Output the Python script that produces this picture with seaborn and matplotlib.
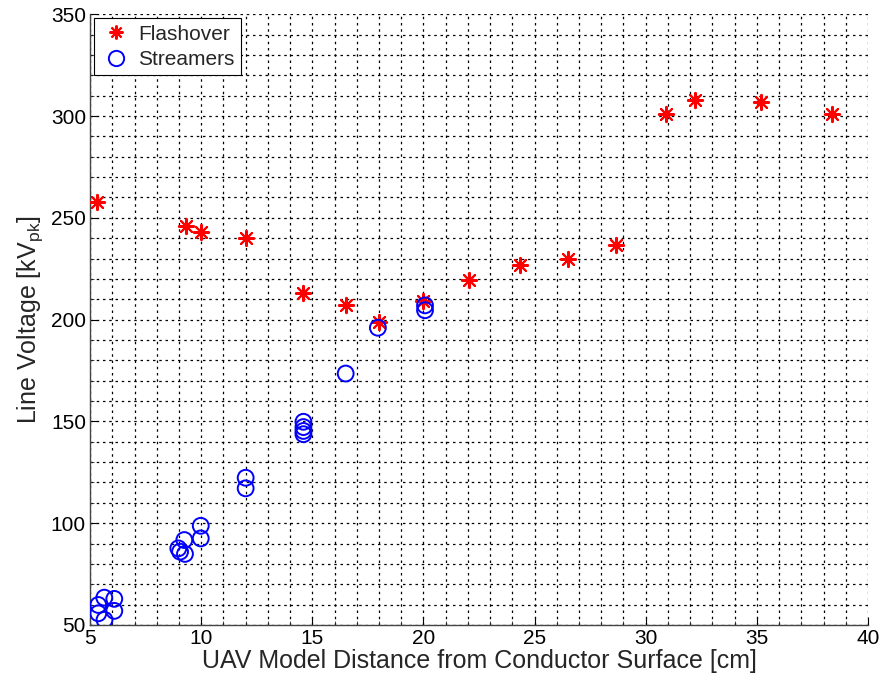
import matplotlib
matplotlib.use("Agg")
import matplotlib.pyplot as plt
import seaborn as sns
import pandas as pd
from matplotlib.ticker import MultipleLocator
from matplotlib.lines import Line2D

flash_x = [5.3, 9.3, 10.0, 12.0, 14.6, 16.5, 18.0, 20.0, 22.05, 24.35, 26.5, 28.65, 30.9, 32.2, 35.2, 38.4]
flash_y = [258, 246, 243, 240, 213, 207, 199, 209, 219.5, 227, 230, 236.5, 301, 308, 307, 301]

stream_x = [5.37, 5.64, 6.09, 5.37, 6.09, 5.65, 8.97, 9.05, 9.24, 9.27, 9.98, 9.98,
            12.0, 12.0, 14.6, 14.6, 14.6, 14.6, 16.5, 17.95, 20.07, 20.07]
stream_y = [59.8, 63.4, 62.8, 55.7, 56.9, 52.5, 87.6, 86.0, 91.7, 84.9, 98.7, 92.5,
            122.3, 117.1, 149.8, 147.2, 145.3, 143.7, 173.5, 196, 207, 204.6]

x_ticks = [5, 10, 15, 20, 25, 30, 35, 40]
y_ticks = [50, 100, 150, 200, 250, 300, 350]

sns.set_style("white")
plt.rcParams['font.family'] = ['Liberation Sans', 'DejaVu Sans']
plt.rcParams['mathtext.fontset'] = 'custom'
plt.rcParams['mathtext.rm'] = 'Liberation Sans'
plt.rcParams['mathtext.it'] = 'Liberation Sans'

fig = plt.figure(figsize=(8.83, 6.8), dpi=100)
ax = fig.add_axes([0.102, 0.081, 0.881, 0.898])

df_f = pd.DataFrame({"x": flash_x, "y": flash_y})
df_s = pd.DataFrame({"x": stream_x, "y": stream_y})

sns.scatterplot(data=df_f, x="x", y="y", ax=ax, marker=(8, 2, 0), s=120,
                color="red", edgecolor="red", linewidth=1.5, zorder=3)
sns.scatterplot(data=df_s, x="x", y="y", ax=ax, marker="o", s=130,
                facecolor="none", edgecolor="blue", linewidth=1.4, zorder=3)

ax.set_xlim(5, 40)
ax.set_ylim(50, 350)
ax.set_xticks(x_ticks)
ax.set_yticks(y_ticks)
ax.xaxis.set_minor_locator(MultipleLocator(1))
ax.yaxis.set_minor_locator(MultipleLocator(10))
ax.grid(True, which="both", color="black", linestyle=(0, (2, 3)), linewidth=0.9)
ax.set_axisbelow(True)

for s in ["top", "right"]:
    ax.spines[s].set_visible(False)
for s in ["left", "bottom"]:
    ax.spines[s].set_color("#444444")
    ax.spines[s].set_linewidth(1.0)

ax.tick_params(axis="both", which="major", direction="in", length=6, labelsize=15,
               colors="black", pad=3, bottom=True, left=True)
ax.tick_params(axis="both", which="minor", direction="in", length=3, bottom=True, left=True)

ax.set_xlabel("UAV Model Distance from Conductor Surface [cm]", fontsize=18, labelpad=1)
ax.set_ylabel("Line Voltage [kV$_{\\mathrm{pk}}$]", fontsize=18, labelpad=4)

handles = [
    Line2D([], [], linestyle="none", marker=(8, 2, 0), markersize=10, color="red", markeredgewidth=1.5),
    Line2D([], [], linestyle="none", marker="o", markersize=11, markerfacecolor="none",
           markeredgecolor="blue", markeredgewidth=1.4),
]
leg = ax.legend(handles, ["Flashover", "Streamers"], loc="upper left", fontsize=15,
                frameon=True, fancybox=False, edgecolor="black", framealpha=1,
                borderaxespad=0.2, handletextpad=0.3, borderpad=0.3, labelspacing=0.3,
                handlelength=1.5)
leg.get_frame().set_linewidth(0.8)

fig.savefig("out.png", dpi=100)
